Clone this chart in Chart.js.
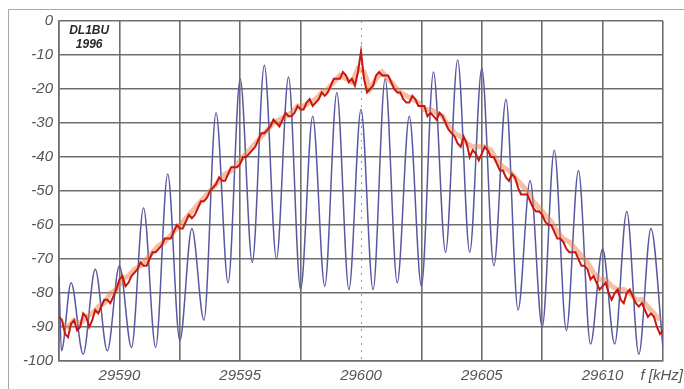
<!DOCTYPE html>
<html><head><meta charset="utf-8">
<script src="https://cdn.jsdelivr.net/npm/chart.js@4/dist/chart.umd.min.js"></script>
<style>html,body{margin:0;padding:0;background:#fff}#wrap{width:684px;height:389px}</style>
</head><body><div id="wrap"><canvas id="c" width="684" height="389"></canvas></div>
<script>
// ---- data ----
const blueFreq = [29587.5,29587.6,29588,29588.5,29589,29589.5,29590,29590.5,29591,29591.5,29592,29592.5,29593,29593.5,29594,29594.5,29595,29595.5,29596,29596.5,29597,29597.5,29598,29598.5,29599,29599.5,29600,29600.5,29601,29601.5,29602,29602.5,29603,29603.5,29604,29604.5,29605,29605.5,29606,29606.5,29607,29607.5,29608,29608.5,29609,29609.5,29610,29610.5,29611,29611.5,29612,29612.5];
const blueLevel = [-75,-97,-77,-98,-73,-97,-72,-96,-55,-96,-45,-94,-61,-88,-27,-77,-17,-71,-13,-70,-16.5,-79,-28,-78,-21,-79,-26,-79,-17,-77,-28,-78,-15,-68,-11.5,-68,-14,-72,-23,-85,-47,-90,-38,-91,-44,-95,-67,-95,-56,-98,-61,-96];

// red trace: samples on the quarter-kHz grid and the in-between samples
const redStart = 29587.5, redStep = 0.25;
const redLevel = [-87,-92,-89,-91,-86,-90,-85,-84,-82,-81,-76,-78,-75,-73,-72,-70,-68,-66,-64,-62,-61,-59,-58,-55,-53,-50,-48,-47,-45,-43,-42,-40,-38,-35,-33,-31,-30,-29,-28,-27,-26,-24,-25,-23,-22,-19,-17,-15,-18,-19,-9,-21,-19,-15,-16,-18,-21,-23,-24,-23,-25,-28,-28,-27,-30,-33,-36,-34,-40,-39,-39,-38,-40,-44,-46,-45,-49,-51,-53,-56,-57,-60,-62,-64,-67,-68,-70,-72,-76,-77,-78,-80,-80,-82,-80,-81,-84,-85,-86,-90,-91];
const redMidLevel = [-88,-93,-88,-90,-87,-88,-86,-82,-83,-79,-75,-77,-74,-71,-72,-68,-67,-64,-64,-60,-61,-57,-57,-53,-52,-49,-46,-47,-43,-43,-40,-39,-37,-33,-32,-29,-31,-27,-28,-25,-26,-23,-24,-21,-21,-17,-17,-16,-17,-15,-17,-20,-16,-16,-16,-20,-21,-24,-22,-25,-25,-27,-29,-28,-32,-34,-37,-36,-38,-41,-37,-40,-42,-44,-47,-46,-51,-51,-55,-56,-59,-60,-64,-65,-68,-68,-72,-73,-75,-79,-77,-82,-79,-83,-79,-83,-83,-87,-87,-92];

// orange (lighter) companion trace
const orangeStart = 29587.625, orangeStep = 0.25;
const orangeLevel = [-89,-90,-88,-89,-87,-86,-84,-83,-80,-79,-76,-75,-73,-72,-70,-68,-66,-65,-63,-61,-59,-57,-55,-53,-51,-49,-47,-45,-44,-42,-40,-38,-36,-34,-32,-30,-29,-28,-27,-25,-25,-24,-23,-21,-20,-18,-16,-17,-18,-14,-15,-20,-17,-15,-17,-19,-21,-22,-23,-24,-26,-26,-27,-28,-31,-33,-34,-36,-37,-37,-37,-38,-41,-43,-44,-46,-48,-50,-53,-55,-57,-59,-62,-64,-65,-67,-69,-71,-74,-76,-76,-78,-79,-79,-80,-82,-82,-84,-86,-88];

const xTickValues = [29587.5,29590,29592.5,29595,29597.5,29600,29602.5,29605,29607.5,29610,29612.5];
const xTickLabels = ['','29590','','29595','','29600','','29605','','29610',''];
const yTickValues = [0,-10,-20,-30,-40,-50,-60,-70,-80,-90,-100];
const yTickLabels = ['0','-10','-20','-30','-40','-50','-60','-70','-80','-90','-100'];
const noteLines = ['DL1BU','1996'];
const unitLabel = 'f [kHz]';
const centerFreq = 29600;

// ---- build ----
const bluePts = blueFreq.map((f,i)=>({x:f,y:blueLevel[i]}));
const redPts = [];
redLevel.forEach((v,i)=>{
  redPts.push({x:redStart+i*redStep, y:v});
  if (i < redMidLevel.length) redPts.push({x:redStart+i*redStep+redStep/2, y:redMidLevel[i]});
});
const orangePts = orangeLevel.map((v,i)=>({x:orangeStart+i*orangeStep,y:v}));

const gridColor = '#6e6e6e';
const textColor = '#555';
const tickFont = {family:'Liberation Sans', style:'italic', size:15};

const deco = {
  id:'deco',
  beforeDraw(chart){
    const ctx = chart.ctx;
    ctx.save();
    ctx.strokeStyle = '#a8a8a8'; ctx.lineWidth = 1;
    ctx.beginPath(); ctx.moveTo(8.5,389); ctx.lineTo(8.5,9.5); ctx.lineTo(684,9.5); ctx.stroke();
    ctx.restore();
  },
  beforeDatasetsDraw(chart){
    const ctx = chart.ctx, xs = chart.scales.x, a = chart.chartArea;
    const px = Math.round(xs.getPixelForValue(centerFreq))+0.5;
    ctx.save();
    ctx.strokeStyle = '#9a9a9a'; ctx.lineWidth = 1; ctx.setLineDash([2,5]);
    ctx.beginPath(); ctx.moveTo(px,a.top); ctx.lineTo(px,a.bottom); ctx.stroke();
    ctx.restore();
  },
  afterDraw(chart){
    const ctx = chart.ctx, a = chart.chartArea, xs = chart.scales.x;
    ctx.save();
    ctx.fillStyle = '#2a2a2a';
    ctx.font = 'italic bold 12px "Liberation Sans"';
    ctx.textAlign = 'center'; ctx.textBaseline = 'middle';
    const cx = (xs.getPixelForValue(xTickValues[0]) + xs.getPixelForValue(xTickValues[1]))/2;
    ctx.fillText(noteLines[0], cx, a.top+10);
    ctx.fillText(noteLines[1], cx, a.top+24);
    ctx.fillStyle = textColor;
    ctx.font = 'italic 15px "Liberation Sans"';
    ctx.textAlign = 'right';
    ctx.fillText(unitLabel, 683, a.bottom+15);
    ctx.restore();
  }
};

new Chart(document.getElementById('c'), {
  type:'line',
  data:{datasets:[
    {data:redPts, borderColor:'#c8170f', borderWidth:2, pointRadius:0, tension:0, order:0},
    {data:orangePts, borderColor:'rgba(238,125,70,0.5)', borderWidth:5, pointRadius:0, tension:0, order:1},
    {data:bluePts, borderColor:'#5858a2', borderWidth:1.5, pointRadius:0, cubicInterpolationMode:'monotone', order:2}
  ]},
  options:{
    responsive:false, animation:false, devicePixelRatio:1,
    layout:{padding:{left:0, top:21, right:21, bottom:0}},
    plugins:{legend:{display:false}, tooltip:{enabled:false}},
    scales:{
      x:{type:'linear', min:29587.5, max:29612.5,
        afterBuildTicks(s){ s.ticks = xTickValues.map(v=>({value:v})); },
        afterFit(s){ s.height = 28; },
        ticks:{autoSkip:false, maxRotation:0, padding:6, color:textColor, font:tickFont,
          callback:(v,i)=>xTickLabels[i]},
        grid:{drawTicks:false, lineWidth:1.6,
          color:c=>(c.tick && c.tick.value===centerFreq)?'rgba(0,0,0,0)':gridColor},
        border:{display:true, color:gridColor, width:1.6}
      },
      y:{type:'linear', min:-100, max:0,
        afterBuildTicks(s){ s.ticks = yTickValues.map(v=>({value:v})); },
        afterFit(s){ s.width = 59; },
        ticks:{autoSkip:false, padding:6, color:textColor, font:tickFont,
          callback:(v,i)=>yTickLabels[i]},
        grid:{drawTicks:false, lineWidth:1.6, color:gridColor},
        border:{display:true, color:gridColor, width:1.6}
      }
    }
  },
  plugins:[deco]
});
</script></body></html>
